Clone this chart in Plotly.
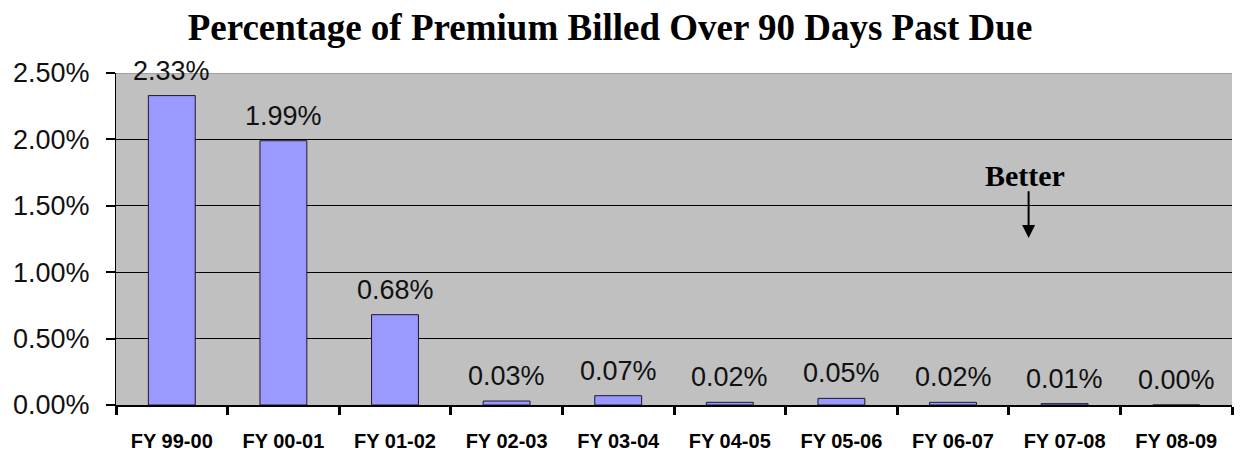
import plotly.graph_objects as go

categories = ["FY 99-00", "FY 00-01", "FY 01-02", "FY 02-03", "FY 03-04",
              "FY 04-05", "FY 05-06", "FY 06-07", "FY 07-08", "FY 08-09"]
values = [2.33, 1.99, 0.68, 0.03, 0.07, 0.02, 0.05, 0.02, 0.01, 0.00]
y_ticks = [0, 0.5, 1.0, 1.5, 2.0, 2.5]
y_tick_labels = ["0.00%", "0.50%", "1.00%", "1.50%", "2.00%", "2.50%"]

# page body adds an 8px margin, so the figure is sized to fill the rest of the window
W, H = 1234, 444

fig = go.Figure()
fig.add_trace(go.Bar(
    x=categories, y=values, width=0.42,
    marker=dict(color="#9999FF", line=dict(color="#1a1a2e", width=1)),
    hoverinfo="skip",
))

for c, v in zip(categories, values):
    fig.add_annotation(x=c, y=v, text=f"{v:.2f}%", showarrow=False,
                       yanchor="middle", yshift=25,
                       font=dict(family="Liberation Sans, Arial", size=27, color="#111"))

fig.add_annotation(x="FY 07-08", y=1.73, text="<b>Better</b>", showarrow=False,
                   xshift=-40,
                   font=dict(family="Liberation Serif, Times New Roman", size=30, color="#000"))
fig.add_annotation(x="FY 07-08", y=1.257, ax="FY 07-08", ay=1.62,
                   xref="x", yref="y", axref="x", ayref="y", xshift=-36,
                   showarrow=True, arrowhead=2, arrowsize=1.3, arrowwidth=2,
                   arrowcolor="#000", text="")

fig.add_shape(type="line", xref="paper", yref="y", x0=0, x1=1, y0=2.5, y1=2.5,
              line=dict(color="#808080", width=1), layer="above")

fig.update_layout(
    width=W, height=H,
    margin=dict(l=108, r=10, t=65, b=47, autoexpand=False),
    paper_bgcolor="white", plot_bgcolor="#C0C0C0",
    showlegend=False,
    title=dict(text="<b>Percentage of Premium Billed Over 90 Days Past Due</b>",
               x=602 / W, xanchor="center", y=1 - 19 / H, yanchor="middle",
               font=dict(family="Liberation Serif, Times New Roman", size=37, color="#000")),
)
fig.update_xaxes(
    tickson="boundaries", ticks="outside", ticklen=8, tickwidth=3, tickcolor="#000",
    showline=True, linecolor="#000", linewidth=2, showgrid=False,
    ticklabelstandoff=17, automargin=False,
    tickfont=dict(family="Liberation Sans, Arial", size=20, color="#000", weight="bold"),
)
fig.update_yaxes(
    range=[0, 2.5], tickvals=y_ticks, ticktext=y_tick_labels,
    ticks="outside", ticklen=9, tickwidth=2, tickcolor="#000",
    showline=True, linecolor="#000", linewidth=1,
    showgrid=True, gridcolor="#000", gridwidth=1, zeroline=False,
    ticklabelstandoff=11, automargin=False,
    tickfont=dict(family="Liberation Sans, Arial", size=27, color="#111"),
)

fig.write_html("out.html")
